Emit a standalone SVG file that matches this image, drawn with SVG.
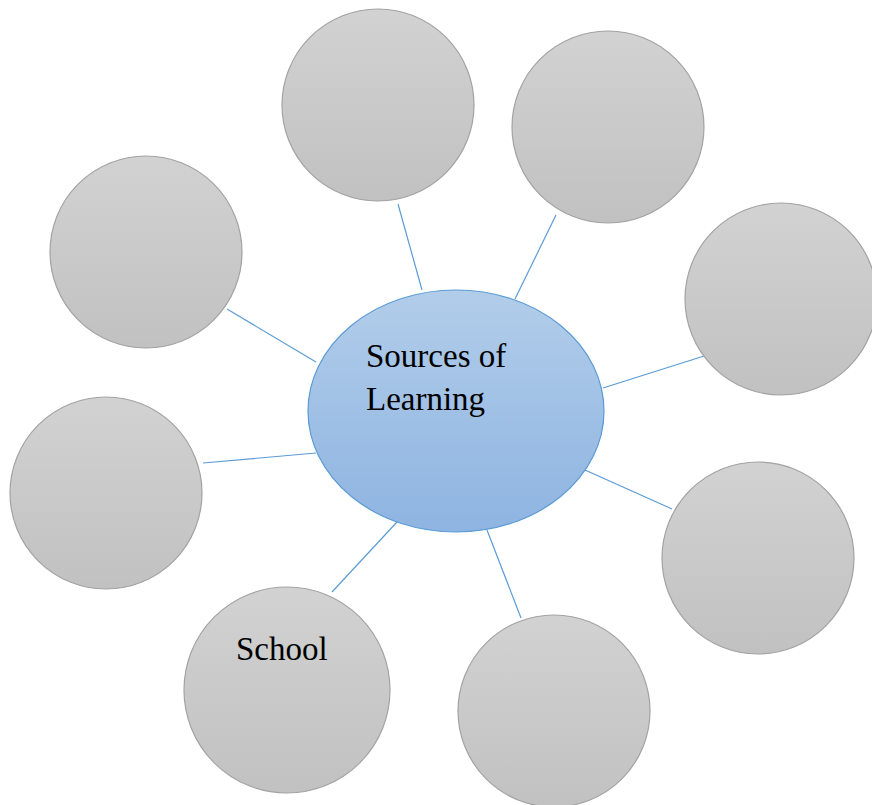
<svg xmlns="http://www.w3.org/2000/svg" width="872" height="805" viewBox="0 0 872 805">
<defs>
<linearGradient id="g" x1="0" y1="0" x2="0" y2="1"><stop offset="0" stop-color="#d2d2d2"/><stop offset="1" stop-color="#c1c1c1"/></linearGradient>
<linearGradient id="b" x1="0" y1="0" x2="0" y2="1"><stop offset="0" stop-color="#b2cdea"/><stop offset="1" stop-color="#8eb4e1"/></linearGradient>
<style>
.c{fill:url(#g);stroke:#a3a3a3;stroke-width:1.2}
.l{stroke:#5b9bd5;stroke-width:1.2;fill:none}
.t{font-family:'Liberation Serif','Times New Roman',Times,'DejaVu Serif',serif;font-size:33px;fill:#000}
</style>
</defs>
<rect width="872" height="805" fill="#fff"/>
<g id="connectors">
<line class="l" x1="398" y1="204" x2="422" y2="290"/>
<line class="l" x1="556" y1="215" x2="515" y2="299"/>
<line class="l" x1="704" y1="356" x2="603" y2="388"/>
<line class="l" x1="672" y1="509" x2="585" y2="470"/>
<line class="l" x1="521" y1="618" x2="487" y2="530"/>
<line class="l" x1="332" y1="592" x2="397" y2="522"/>
<line class="l" x1="203" y1="463" x2="316" y2="453"/>
<line class="l" x1="227" y1="309" x2="316" y2="362"/>
</g>
<g id="center">
<ellipse cx="456" cy="411" rx="148" ry="121" fill="url(#b)" stroke="#5b9bd5" stroke-width="1.2"/>
<text class="t" x="366" y="367">Sources of</text>
<text class="t" x="366" y="410">Learning</text>
</g>
<g id="n1"><circle class="c" cx="378" cy="105" r="96"/></g>
<g id="n2"><circle class="c" cx="608" cy="127" r="96"/></g>
<g id="n3"><circle class="c" cx="781" cy="299" r="96"/></g>
<g id="n4"><circle class="c" cx="758" cy="558" r="96"/></g>
<g id="n5"><circle class="c" cx="554" cy="711" r="96"/></g>
<g id="school"><circle class="c" cx="287" cy="690" r="103"/>
<text class="t" x="236" y="660">School</text></g>
<g id="n7"><circle class="c" cx="106" cy="493" r="96"/></g>
<g id="n8"><circle class="c" cx="146" cy="252" r="96"/></g>
</svg>
